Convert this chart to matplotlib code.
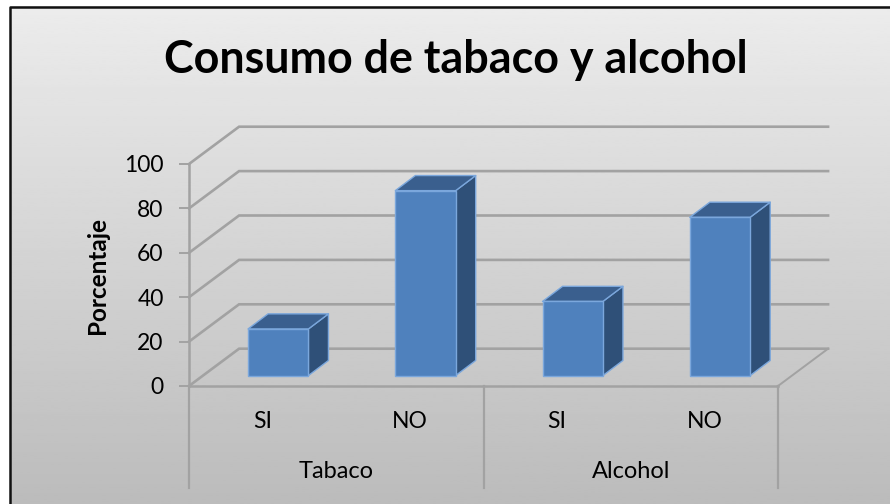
import numpy as np
import matplotlib
matplotlib.use("Agg")
import matplotlib.pyplot as plt

title = "Consumo de tabaco y alcohol"
ylabel = "Porcentaje"
bar_labels = ["SI", "NO", "SI", "NO"]
groups = ["Tabaco", "Alcohol"]
values = [21, 83.3, 33.4, 71.3]
yticks = [0, 20, 40, 60, 80, 100]

GRID = "#a2a2a2"
FRONT = "#4f81bd"
TOP = "#3a5f8e"
SIDE = "#2f5078"
EDGE = "#7ba7dc"

# oblique offset of the back wall, in data units
wall_dx = 0.34
wall_dy = 16.8
# bars sit part way into the floor
bar_w = 0.41
bar_dx = 0.106
bar_dy = 4.7
bar_depth_x = 0.136
bar_depth_y = 6.8

plt.rcParams["font.family"] = ["Lato", "DejaVu Sans"]

fig = plt.figure(figsize=(8.9, 5.04), dpi=100)

# chart area background with its vertical gradient and black frame
bg = fig.add_axes([0, 0, 1, 1], zorder=0)
grad = np.linspace(0.925, 0.735, 256).reshape(-1, 1)
bg.imshow(grad, cmap="gray", vmin=0, vmax=1, aspect="auto",
          extent=(9.5, 890, 504, 6.5))
bg.plot([9.5, 9.5, 890], [504, 6.5, 6.5], color="#111111", lw=1.8)
bg.set_xlim(0, 890)
bg.set_ylim(504, 0)
bg.axis("off")

ax = fig.add_axes([189 / 890, (504 - 386) / 504, 589 / 890, 222 / 504], zorder=1)
ax.patch.set_alpha(0)
ax.set_xlim(0, 4)
ax.set_ylim(0, 100)

# walls and floor
for v in yticks:
    ax.plot([0, wall_dx, 4 + wall_dx], [v, v + wall_dy, v + wall_dy],
            color=GRID, lw=1.9, clip_on=False, zorder=1, solid_joinstyle="miter")
ax.plot([4, 4 + wall_dx], [0, wall_dy], color=GRID, lw=1.4, clip_on=False, zorder=1)

# bars: side and top first, the front face over them
xs = np.arange(len(values)) + 0.5
for x, v in zip(xs, values):
    left = x - bar_w / 2 + bar_dx
    right = left + bar_w
    base = bar_dy
    top = base + v
    ax.fill([right, right + bar_depth_x, right + bar_depth_x, right],
            [base, base + bar_depth_y, top + bar_depth_y, top],
            fc=SIDE, ec=EDGE, lw=1.0, clip_on=False, zorder=2, joinstyle="round")
    ax.fill([left, left + bar_depth_x, right + bar_depth_x, right],
            [top, top + bar_depth_y, top + bar_depth_y, top],
            fc=TOP, ec=EDGE, lw=1.0, clip_on=False, zorder=2, joinstyle="round")
ax.bar(xs + bar_dx, values, bar_w, bottom=bar_dy, color=FRONT, edgecolor=EDGE,
       lw=1.0, clip_on=False, zorder=3)

for name in ["top", "right"]:
    ax.spines[name].set_visible(False)
for name in ["left", "bottom"]:
    ax.spines[name].set_color(GRID)
    ax.spines[name].set_linewidth(1.8)

ax.set_yticks(yticks)
ax.tick_params(axis="y", length=7.2, width=1.4, color=GRID, labelsize=16.5, pad=11,
               labelcolor="black")
ax.set_xticks(xs)
ax.set_xticklabels(bar_labels)
ax.tick_params(axis="x", length=0, labelsize=16.5, pad=18, labelcolor="black")

# two level category axis below the floor
for x in [0, 2, 4]:
    ax.plot([x, x], [0, -46], color=GRID, lw=1.6, clip_on=False, zorder=1)
for x, name in zip([1, 3], groups):
    ax.text(x, -38.7, name, ha="center", va="center", fontsize=17)

ax.set_ylabel(ylabel, fontsize=17.5, fontweight="bold", va="center")
ax.yaxis.set_label_coords(-0.1545, 0.5)
fig.text(456 / 890, 1 - 73 / 504, title, ha="center", va="baseline",
         fontsize=32.3, fontweight="bold", color="black")

fig.savefig("out.png", dpi=100)
